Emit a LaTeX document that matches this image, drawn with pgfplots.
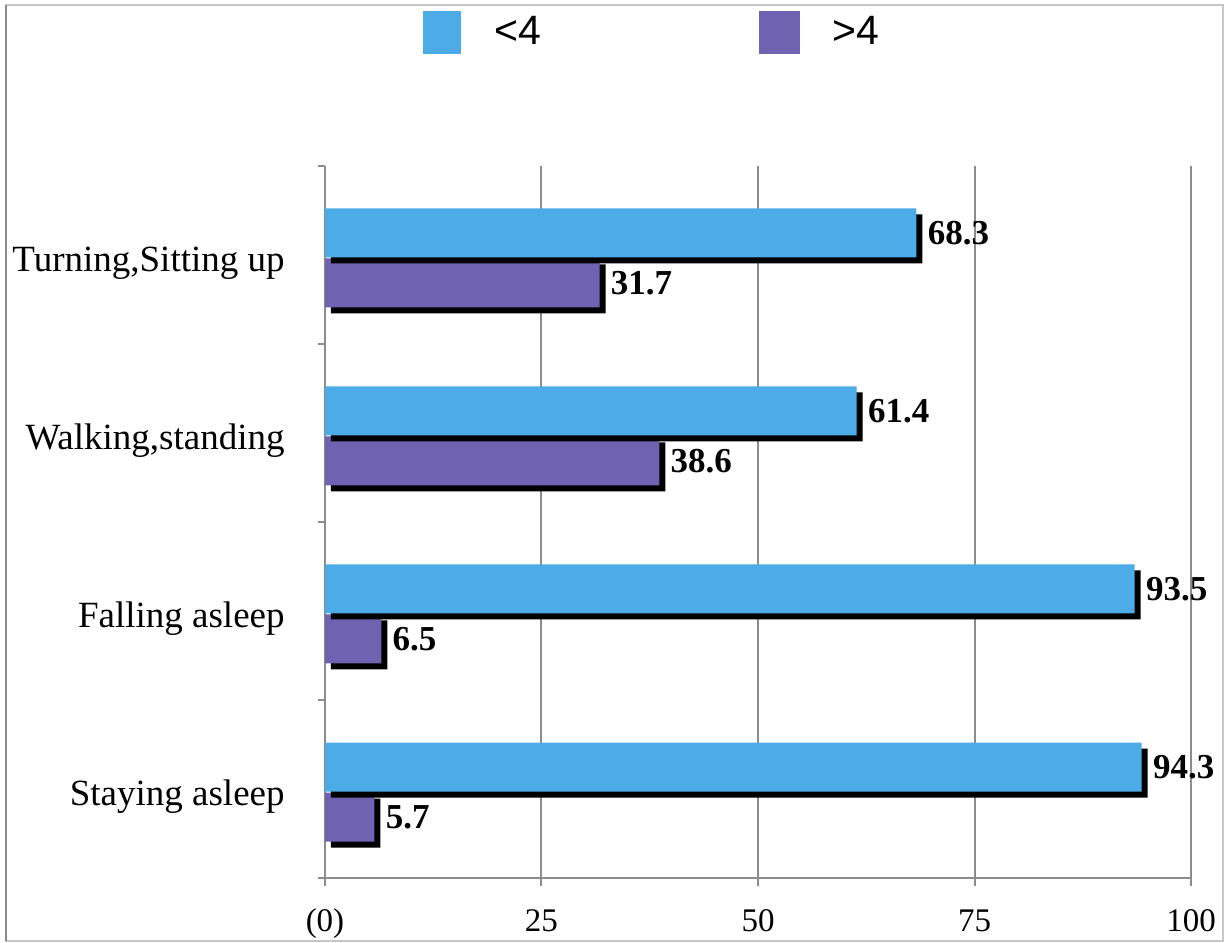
\documentclass[border=0pt]{standalone}
\usepackage{fontspec}
\setmainfont{Liberation Serif}
\newfontfamily\legendfont{Liberation Sans}
\usepackage{pgfplots}
\usepackage{pgfplotstable}
\pgfplotsset{compat=1.18}
\usetikzlibrary{shadows}
\definecolor{barblue}{HTML}{4DABE8}
\definecolor{barpurple}{HTML}{6E62B1}
\definecolor{axgray}{HTML}{8C8C8C}

\pgfplotstableread{
y lt gt
0 94.3 5.7
1 93.5 6.5
2 61.4 38.6
3 68.3 31.7
}\data

\begin{document}
\begin{tikzpicture}
\begin{axis}[
  scale only axis, width=433pt, height=356pt,
  xmin=0, xmax=100, ymin=-0.5, ymax=3.5,
  clip=false,
  axis x line*=bottom, axis y line*=left,
  axis line style={-, draw=axgray, line width=1pt},
  xtick={0,25,50,75,100},
  xticklabels={(0),25,50,75,100},
  xmajorgrids, grid style={draw=axgray, line width=1pt},
  tick style={draw=axgray, line width=1pt},
  tick align=outside,
  major tick length=4pt,
  minor tick length=3.5pt,
  ytick={0,1,2,3},
  yticklabels={Staying asleep, Falling asleep, {Walking,standing}, {Turning,Sitting up}},
  minor ytick={-0.5,0.5,1.5,2.5,3.5},
  major y tick style={draw=none},
  xticklabel style={font=\fontsize{16.5}{18}\selectfont, anchor=base, inner sep=0pt, yshift=-22.5pt},
  yticklabel style={font=\fontsize{18.5}{20}\selectfont, anchor=base east, inner sep=0pt, xshift=-16pt, yshift=-8.25pt},
  legend style={at={(0.377,1.188)}, anchor=center, draw=none, fill=none,
    legend columns=2, font=\legendfont\fontsize{20.5}{22}\selectfont,
    column sep=16.5pt, /tikz/every even column/.append style={column sep=109pt},
    nodes={inner sep=0pt}},
]
\coordinate (SW) at (rel axis cs:0,0);
\coordinate (NE) at (rel axis cs:1,1);
\addlegendimage{legend image code/.code={\fill[barblue] (0,-10.5pt) rectangle (18.5pt,10.5pt);}}
\addlegendentry{<4}
\addlegendimage{legend image code/.code={\fill[barpurple] (0,-10.5pt) rectangle (20pt,10.5pt);}}
\addlegendentry{>4}
\addplot[xbar, bar width=24.5pt, bar shift=-14pt, fill=barpurple, draw=none,
  drop shadow={shadow xshift=3pt, shadow yshift=-3pt, opacity=1, fill=black},
  forget plot, nodes near coords, point meta=explicit symbolic,
  nodes near coords style={anchor=west, inner sep=0pt, xshift=5.5pt, yshift=-14pt, text=black,
    font=\bfseries\fontsize{17.5}{19}\selectfont}]
  table[x=gt, y=y, meta=gt] {\data};
\addplot[xbar, bar width=24.5pt, bar shift=11pt, fill=barblue, draw=none,
  drop shadow={shadow xshift=3pt, shadow yshift=-3pt, opacity=1, fill=black},
  forget plot, nodes near coords, point meta=explicit symbolic,
  nodes near coords style={anchor=west, inner sep=0pt, xshift=5.5pt, yshift=11pt, text=black,
    font=\bfseries\fontsize{17.5}{19}\selectfont}]
  table[x=lt, y=y, meta=lt] {\data};
\end{axis}
\pgfresetboundingbox
\path ([shift={(-162.5pt,-32pt)}]SW) rectangle ([shift={(17pt,83pt)}]NE);
\draw[gray!45, line width=0.6pt] ([shift={(-159.5pt,-31.5pt)}]SW) rectangle ([shift={(16pt,80.5pt)}]NE);
\draw[gray!90, line width=1pt] ([shift={(-159.5pt,-31.5pt)}]SW) -- ([shift={(-159.5pt,80.5pt)}]SW|-NE);
\end{tikzpicture}
\end{document}
